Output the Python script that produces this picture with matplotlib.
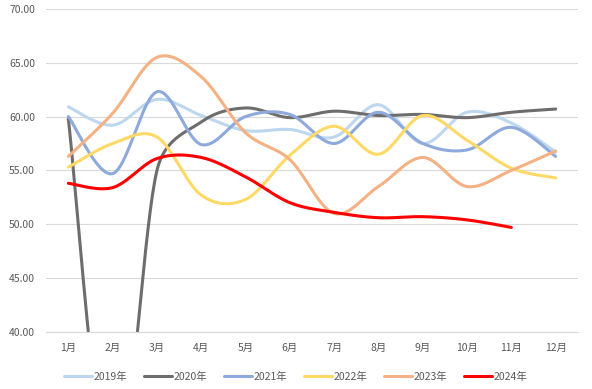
import numpy as np
import matplotlib.pyplot as plt

plt.rcParams['font.family'] = ['Noto Sans CJK SC', 'DejaVu Sans']

months = ['1月', '2月', '3月', '4月', '5月', '6月', '7月', '8月', '9月', '10月', '11月', '12月']

y2019 = [60.9, 59.2, 61.6, 60.1, 58.7, 58.8, 58.1, 61.1, 57.5, 60.4, 59.4, 56.7]
y2020 = [59.8, 25.0, 55.0, 59.5, 60.8, 59.9, 60.5, 60.1, 60.2, 59.9, 60.4, 60.7]
y2021 = [60.0, 54.7, 62.3, 57.4, 60.0, 60.2, 57.5, 60.4, 57.5, 56.9, 59.0, 56.3]
y2022 = [55.3, 57.5, 58.1, 52.7, 52.3, 56.4, 59.1, 56.5, 60.1, 57.8, 55.2, 54.3]
y2023 = [56.3, 60.3, 65.5, 63.7, 58.5, 56.0, 51.0, 53.5, 56.2, 53.5, 55.0, 56.8]
y2024 = [53.8, 53.4, 56.1, 56.2, 54.4, 52.0, 51.1, 50.6, 50.7, 50.4, 49.7]

series = [
    ('2019年', y2019, '#BDD7EE'),
    ('2020年', y2020, '#6F6C6C'),
    ('2021年', y2021, '#8EA9DB'),
    ('2022年', y2022, '#FFD966'),
    ('2023年', y2023, '#F4B183'),
    ('2024年', y2024, '#FF0000'),
]

# rough screen scale (px per category, px per unit) used for the smoothing
SX, SY = 44.5, 10.77


def cap(v, lim):
    n = np.linalg.norm(v)
    return v * (lim / n) if n > lim else v


def smooth(vals, n=40):
    # excel-like smoothed line (catmull-rom bezier, handles capped at half the segment)
    v = np.asarray(vals, dtype=float)
    P = np.column_stack([np.arange(len(v)) * SX, v * SY])
    xs, ys = [], []
    for i in range(len(P) - 1):
        p0 = P[max(i - 1, 0)]
        p1, p2 = P[i], P[i + 1]
        p3 = P[min(i + 2, len(P) - 1)]
        seg = np.linalg.norm(p2 - p1)
        c1 = p1 + cap((p2 - p0) / 6, seg / 2)
        c2 = p2 - cap((p3 - p1) / 6, seg / 2)
        t = np.linspace(0, 1, n)[:, None]
        b = (1 - t) ** 3 * p1 + 3 * (1 - t) ** 2 * t * c1 + 3 * (1 - t) * t ** 2 * c2 + t ** 3 * p2
        xs.append(b[:, 0] / SX)
        ys.append(b[:, 1] / SY)
    return np.concatenate(xs), np.concatenate(ys)


fig = plt.figure(figsize=(5.92, 3.89), dpi=100)
ax = fig.add_axes([0.078, 0.147, 0.898, 0.83])

for name, vals, col in series:
    x, y = smooth(vals)
    ax.plot(x, y, color=col, lw=2.2, label=name, solid_capstyle='round')

ax.set_xlim(-0.5, 11.5)
ax.set_ylim(40, 70)
ax.set_yticks(np.arange(40, 71, 5))
ax.set_yticklabels([f'{v:.2f}' for v in np.arange(40, 71, 5)])
ax.set_xticks(range(12))
ax.set_xticklabels(months)
ax.grid(axis='y', color='#D9D9D9', lw=0.8)
ax.set_axisbelow(True)
for s in ['top', 'right', 'left']:
    ax.spines[s].set_visible(False)
ax.spines['bottom'].set_color('#D9D9D9')
ax.tick_params(length=0, labelsize=7.5, colors='#595959', pad=8)

leg = fig.legend(loc='lower center', ncol=6, frameon=False, fontsize=7.5,
                 bbox_to_anchor=(0.5, -0.005), handlelength=2.7, columnspacing=1.6, handletextpad=0.15)
for t in leg.get_texts():
    t.set_color('#595959')

fig.savefig('out.png', dpi=100)
